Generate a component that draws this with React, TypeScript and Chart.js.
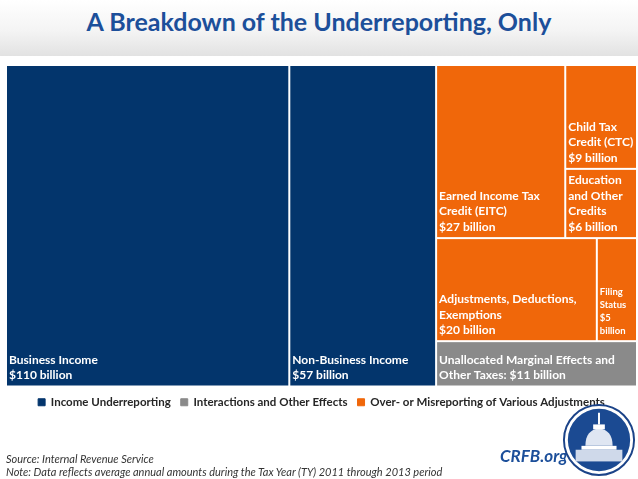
import React, { useEffect, useRef } from "react";
import { Chart, registerables } from "chart.js";
Chart.register(...registerables);

const titleText = "A Breakdown of the Underreporting, Only";
const categories = [
  "Business Income",
  "Non-Business Income",
  "Earned Income Tax Credit (EITC)",
  "Child Tax Credit (CTC)",
  "Education and Other Credits",
  "Adjustments, Deductions, Exemptions",
  "Filing Status",
  "Unallocated Marginal Effects and Other Taxes",
];
const values = [110, 57, 27, 9, 6, 20, 5, 11];
const labelLines = [
  ["Business Income", "$110 billion"],
  ["Non-Business Income", "$57 billion"],
  ["Earned Income Tax", "Credit (EITC)", "$27 billion"],
  ["Child Tax", "Credit (CTC)", "$9 billion"],
  ["Education", "and Other", "Credits", "$6 billion"],
  ["Adjustments, Deductions,", "Exemptions", "$20 billion"],
  ["Filing", "Status", "$5", "billion"],
  ["Unallocated Marginal Effects and", "Other Taxes: $11 billion"],
];
const groupOf = [0, 0, 2, 2, 2, 2, 2, 1];
const groupNames = [
  "Income Underreporting",
  "Interactions and Other Effects",
  "Over- or Misreporting of Various Adjustments",
];
const groupColors = ["#03356c", "#8a8a8a", "#f0670a"];

type TreeNode = number | { dir: "h" | "v"; kids: TreeNode[] };
const tree: TreeNode = {
  dir: "h",
  kids: [
    0,
    1,
    {
      dir: "v",
      kids: [
        { dir: "h", kids: [2, { dir: "v", kids: [3, 4] }] },
        { dir: "h", kids: [5, 6] },
        7,
      ],
    },
  ],
};

type Rect = { i: number; x0: number; x1: number; y0: number; y1: number };

function sumNode(n: TreeNode): number {
  if (typeof n === "number") return values[n];
  return n.kids.reduce((a, k) => a + sumNode(k), 0);
}

function layoutNode(n: TreeNode, x0: number, x1: number, y0: number, y1: number, out: Rect[]) {
  if (typeof n === "number") {
    out.push({ i: n, x0, x1, y0, y1 });
    return;
  }
  const total = sumNode(n);
  let pos = n.dir === "h" ? x0 : y0;
  for (const k of n.kids) {
    const frac = sumNode(k) / total;
    if (n.dir === "h") {
      const w = (x1 - x0) * frac;
      layoutNode(k, pos, pos + w, y0, y1, out);
      pos += w;
    } else {
      const h = (y1 - y0) * frac;
      layoutNode(k, x0, x1, pos, pos + h, out);
      pos += h;
    }
  }
}

const FONT = "Lato, 'Open Sans', sans-serif";

const treemapPlugin = {
  id: "treemapCells",
  afterDatasetsDraw(chart: any) {
    const { ctx, scales } = chart;
    const xs = scales.x;
    const ys = scales.y;
    const rects: Rect[] = [];
    const total = sumNode(tree);
    layoutNode(tree, 0, total, 0, 1, rects);
    ctx.save();
    for (const r of rects) {
      const px0 = xs.getPixelForValue(r.x0);
      const px1 = xs.getPixelForValue(r.x1);
      const py0 = ys.getPixelForValue(r.y0);
      const py1 = ys.getPixelForValue(r.y1);
      const L = Math.min(px0, px1), R = Math.max(px0, px1);
      const T = Math.min(py0, py1), B = Math.max(py0, py1);
      ctx.fillStyle = groupColors[groupOf[r.i]];
      ctx.fillRect(L + 1, T + 1, R - L - 2, B - T - 2);
      const lines = labelLines[r.i];
      const small = R - L < 60;
      const fs = small ? 9.5 : 12;
      const lh = small ? 13 : 15.5;
      ctx.font = `bold ${fs}px ${FONT}`;
      ctx.fillStyle = "#ffffff";
      ctx.textBaseline = "middle";
      ctx.textAlign = "left";
      const lastY = B - (small ? 10 : 11);
      lines.forEach((ln, j) => {
        ctx.fillText(ln, L + 3, lastY - (lines.length - 1 - j) * lh);
      });
    }
    ctx.restore();
  },
};

function Logo() {
  return (
    <svg width="74" height="74" viewBox="0 0 76 76" style={{ position: "absolute", left: 562, top: 403 }}>
      <circle cx="38" cy="38" r="36" fill="#ffffff" stroke="#1b4388" strokeWidth="2" />
      <circle cx="38" cy="38" r="32" fill="#1b4a92" />
      <path d="M37 10 L39 10 L39 22 L37 22 Z" fill="#ffffff" />
      <path d="M24 44 Q24 28 38 26 Q52 28 52 44 Z" fill="#dfe6f2" />
      <rect x="20" y="44" width="36" height="4" fill="#ffffff" />
      <rect x="14" y="48" width="48" height="12" fill="#cfd9ea" />
      <rect x="32" y="22" width="12" height="5" fill="#ffffff" />
    </svg>
  );
}

export default function App() {
  const ref = useRef<HTMLCanvasElement | null>(null);
  useEffect(() => {
    if (!ref.current) return;
    const chart = new Chart(ref.current, {
      type: "scatter",
      data: {
        datasets: groupNames.map((g, k) => ({
          label: g,
          data: [] as any[],
          backgroundColor: groupColors[k],
          borderColor: groupColors[k],
        })),
      },
      options: {
        animation: false,
        responsive: false,
        devicePixelRatio: 1,
        layout: { padding: { left: 6, right: 1, top: 65, bottom: 61 } },
        scales: {
          x: { type: "linear", min: 0, max: sumNode(tree), display: false },
          y: { type: "linear", min: 0, max: 1, reverse: true, display: false },
        },
        plugins: {
          title: { display: false },
          tooltip: { enabled: false },
          legend: {
            display: true,
            position: "bottom",
            labels: {
              boxWidth: 7,
              boxHeight: 7,
              padding: 10,
              color: "#262626",
              font: { family: FONT, size: 11.5, weight: "bold" },
            },
          },
        },
      },
      plugins: [treemapPlugin],
    } as any);
    return () => chart.destroy();
  }, []);

  return (
    <div style={{ position: "absolute", left: 0, top: 0, width: 638, height: 479, overflow: "hidden", background: "#ffffff", fontFamily: FONT }}>
      <div style={{ position: "absolute", left: 0, top: 0, width: 638, height: 56, background: "linear-gradient(#ffffff 0%, #f4f4f4 55%, #e2e2e2 100%)" }} />
      <div style={{ position: "absolute", left: 0, top: 6, width: 638, textAlign: "center", color: "#1c4f9a", fontWeight: "bold", fontSize: 25 }}>
        {titleText}
      </div>
      <canvas ref={ref} width={638} height={479} style={{ position: "absolute", left: 0, top: 0 }} />
      <div style={{ position: "absolute", left: 6, top: 452, fontSize: 11, fontStyle: "italic", color: "#333", lineHeight: "13px", whiteSpace: "nowrap" }}>
        <div>Source: Internal Revenue Service</div>
        <div>Note: Data reflects average annual amounts during the Tax Year (TY) 2011 through 2013 period</div>
      </div>
      <div style={{ position: "absolute", left: 500, top: 445, fontSize: 17, fontWeight: "bold", fontStyle: "italic", color: "#1c4f9a" }}>CRFB.org</div>
      <Logo />
    </div>
  );
}
